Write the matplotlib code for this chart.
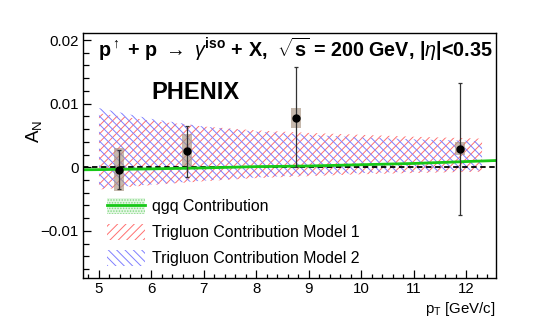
import matplotlib
matplotlib.use("Agg")
import matplotlib.pyplot as plt
from matplotlib.patches import Patch
from matplotlib.lines import Line2D
import numpy as np

plt.rcParams['font.family'] = ['Liberation Sans', 'DejaVu Sans']
plt.rcParams['mathtext.fontset'] = 'custom'
plt.rcParams['mathtext.rm'] = 'Liberation Sans'
plt.rcParams['mathtext.bf'] = 'Liberation Sans:bold'
plt.rcParams['mathtext.it'] = 'Liberation Sans:italic'
plt.rcParams['hatch.linewidth'] = 0.7

# ---- data ----
pt = [5.39, 6.68, 8.76, 11.88]
an = [-0.00036, 0.0026, 0.0078, 0.0028]
stat_lo = [0.0030, 0.0041, 0.0078, 0.0103]
stat_hi = [0.0030, 0.0039, 0.0080, 0.0104]
sys_lo = [0.0034, 0.0027, 0.0016, 0.0009]
sys_hi = [0.0034, 0.0027, 0.0015, 0.0011]

band_x = [5.0, 6.0, 7.0, 8.0, 9.0, 10.0, 11.0, 12.3]
model1_lo = [-0.0035, -0.0028, -0.0022, -0.0017, -0.0014, -0.0011, -0.0009, -0.0007]
model1_hi = [0.0085, 0.0073, 0.0064, 0.0058, 0.0054, 0.0051, 0.0048, 0.0045]
model2_lo = [-0.0033, -0.0027, -0.0021, -0.0016, -0.0012, -0.0009, -0.0007, -0.0005]
model2_hi = [0.0093, 0.0076, 0.0064, 0.0056, 0.0051, 0.0047, 0.0044, 0.0041]

qgq_x = [4.6, 5.0, 6.0, 7.0, 8.0, 9.0, 10.0, 11.0, 12.0, 12.7]
qgq_y = [-0.0004, -0.00037, -0.00025, -0.0001, 0.0001, 0.0002, 0.0004, 0.0006, 0.0009, 0.0011]
qgq_w = 0.00015

labels = ["qgq Contribution", "Trigluon Contribution Model 1", "Trigluon Contribution Model 2"]

RED = '#ff7070'
BLUE = '#7f7fff'
GREEN = '#18c818'
LGREEN = '#7fd87f'

# ---- figure ----
fig = plt.figure(figsize=(5.52, 3.28), dpi=100)
ax = fig.add_axes([82.7/552, 1-278/328, (495.7-82.7)/552, (278-33)/328])
ax.set_xlim(4.69, 12.56)
ax.set_ylim(-0.0174, 0.0211)

ax.fill_between(band_x, model1_lo, model1_hi, facecolor='none', edgecolor=RED,
                hatch='////', linewidth=0)
ax.fill_between(band_x, model2_lo, model2_hi, facecolor='none', edgecolor=BLUE,
                hatch='\\\\\\\\', linewidth=0)

qx = np.array(qgq_x); qy = np.array(qgq_y)
ax.fill_between(qx, qy - qgq_w, qy + qgq_w, facecolor='none', edgecolor=LGREEN,
                hatch='......', linewidth=0)
ax.axhline(0, color='black', ls=(0, (3, 2)), lw=1.3)
ax.plot(qx, qy, color=GREEN, lw=2)

# systematic boxes
lo = np.array(an) - np.array(sys_lo)
hi = np.array(an) + np.array(sys_hi)
ax.bar(pt, hi - lo, bottom=lo, width=0.19, color='#a89482', alpha=0.65, linewidth=0)

ax.errorbar(pt, an, yerr=[stat_lo, stat_hi], fmt='o', color='black', ms=5,
            ecolor='#333333', elinewidth=0.9, capsize=1.5, capthick=0.9)

# axes styling
for s in ax.spines.values():
    s.set_linewidth(1.0)
ax.set_xticks(range(5, 13))
ax.set_xticks(np.arange(4.8, 12.6, 0.2), minor=True)
ax.set_yticks([-0.01, 0, 0.01, 0.02])
ax.set_yticklabels(['\u22120.01', '0', '0.01', '0.02'])
ax.set_yticks(np.arange(-0.016, 0.021, 0.002), minor=True)
ax.tick_params(axis='both', which='both', direction='in', top=False, right=False,
               labelsize=10.8, width=0.9)
ax.tick_params(axis='x', which='major', length=5.5, pad=3)
ax.tick_params(axis='x', which='minor', length=2.7)
ax.tick_params(axis='y', which='major', length=5.5, pad=3)
ax.tick_params(axis='y', which='minor', length=4)

ax.set_ylabel(r'A$_{\rm N}$', fontsize=13.5)
ax.yaxis.set_label_coords(-0.093, 0.6)
ax.text(1.0, -0.09, r'p$_{\rm T}$ [GeV/c]', transform=ax.transAxes, ha='right', va='top',
        fontsize=10.8)

ax.text(98 / 552, 1 - 57 / 328, r'p$^{\uparrow}$ + p $\rightarrow$ $\gamma^{\mathbf{iso}}$ + X,  $\sqrt{\mathbf{s}}$ = 200 GeV, |$\eta$|<0.35',
        transform=fig.transFigure, fontsize=14.2, fontweight='bold', ha='left', va='baseline')
ax.text(151.5 / 552, 1 - 99 / 328, 'PHENIX', transform=fig.transFigure, fontsize=17,
        fontweight='bold', ha='left', va='baseline')

# legend
h_qgq = (Patch(facecolor='#e4f6e4', edgecolor=LGREEN, hatch='......', linewidth=0),
         Line2D([], [], color=GREEN, lw=2))
h_m1 = Patch(facecolor='none', edgecolor=RED, hatch='////', linewidth=0)
h_m2 = Patch(facecolor='none', edgecolor=BLUE, hatch='\\\\\\\\', linewidth=0)
ax.legend([h_qgq, h_m1, h_m2], labels, loc='upper left',
          bbox_to_anchor=(106.7 / 552, 1 - 198 / 328), bbox_transform=fig.transFigure,
          frameon=False, fontsize=11.4, handlelength=2.4, handleheight=1.15,
          labelspacing=0.62, handletextpad=0.45, borderpad=0, borderaxespad=0)

fig.savefig('out.png', dpi=100)
